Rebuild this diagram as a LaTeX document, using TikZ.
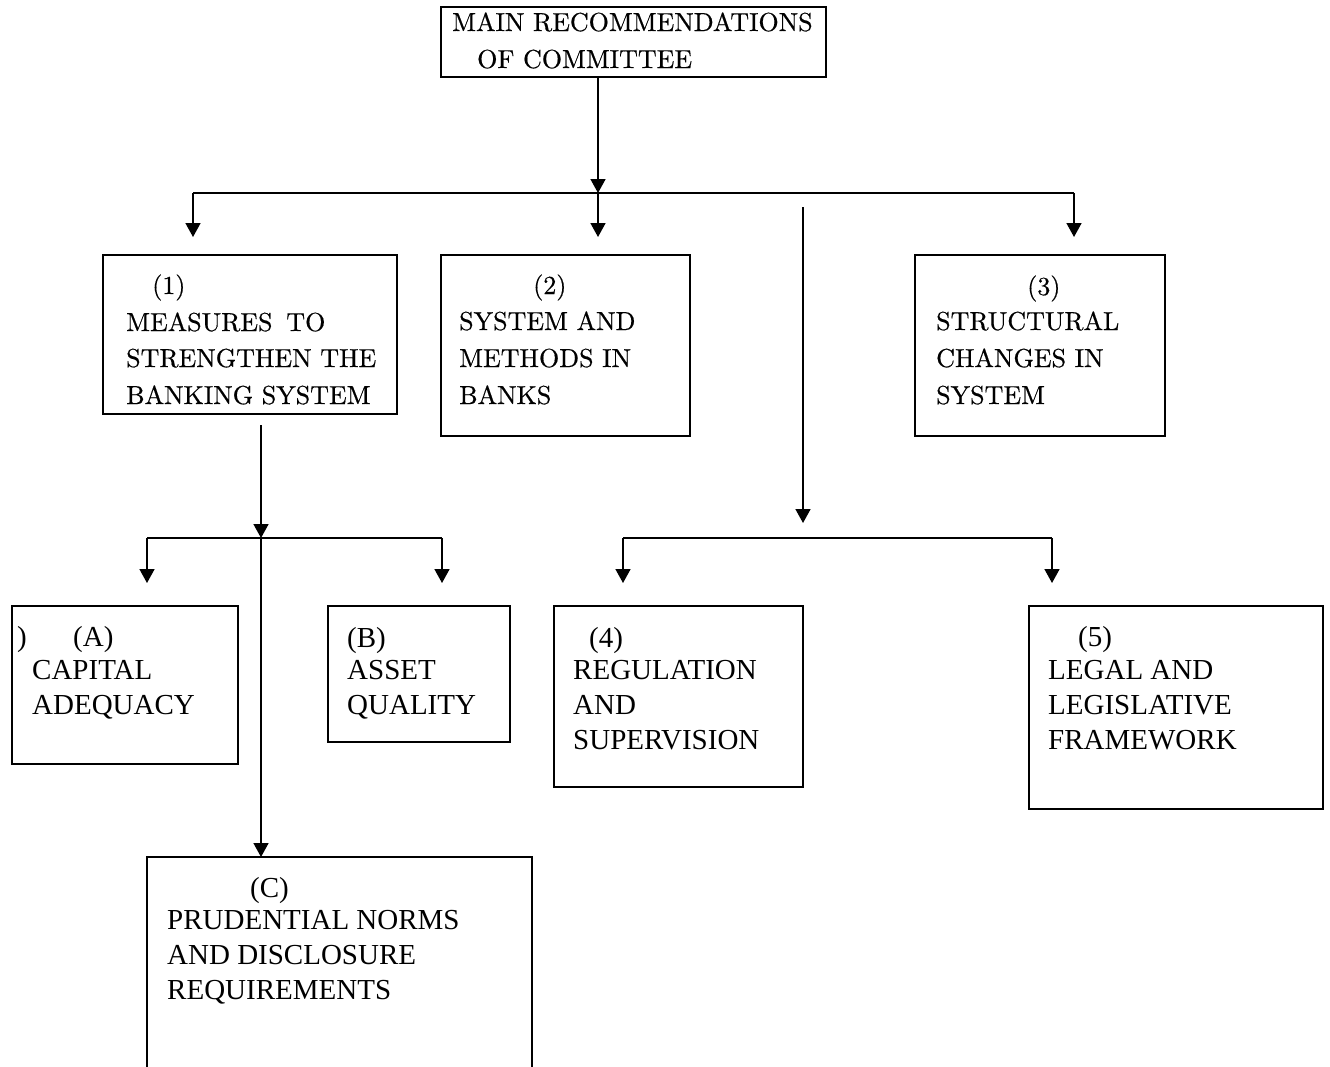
\documentclass[tikz,border=0pt]{standalone}
\usepackage{fontspec}
\newfontfamily\tnrfont{Liberation Serif}
\newfontfamily\cmbfont[Extension=.otf,FakeBold=0.5]{lmroman10-regular}
\usetikzlibrary{arrows.meta}
\begin{document}
\begin{tikzpicture}[x=1pt,y=-1pt,
  box/.style={draw,line width=1.5pt,rectangle,anchor=north west,inner sep=0pt,outer sep=0pt},
  ctxt/.style={anchor=base west,inner sep=0pt,font=\cmbfont\fontsize{26}{30}\selectfont},
  ttxt/.style={anchor=base west,inner sep=0pt,font=\tnrfont\fontsize{29}{34}\selectfont},
  ln/.style={line width=1.6pt},
  arr/.style={line width=1.6pt,-{Triangle[length=14pt,width=15pt]}}]
\useasboundingbox[fill=white] (0,0) rectangle (1330,1066);
% boxes
\node[box,minimum width=385pt,minimum height=70pt] (top) at (441,7) {};
\node[box,minimum width=294pt,minimum height=159pt] (b1) at (103,255) {};
\node[box,minimum width=249pt,minimum height=181pt] (b2) at (441,255) {};
\node[box,minimum width=250pt,minimum height=181pt] (b3) at (915,255) {};
\node[box,minimum width=226pt,minimum height=158pt] (bA) at (12,606) {};
\node[box,minimum width=182pt,minimum height=136pt] (bB) at (328,606) {};
\node[box,minimum width=249pt,minimum height=181pt] (b4) at (554,606) {};
\node[box,minimum width=294pt,minimum height=203pt] (b5) at (1029,606) {};
\node[box,minimum width=385pt,minimum height=240pt] (bC) at (147,857) {};
% texts
\node[ctxt] (t0a) at (452,31) {MAIN RECOMMENDATIONS};
\node[ctxt] (t0b) at (477,68) {OF COMMITTEE};
\node[ctxt] (t1a) at (152,294) {(1)};
\node[ctxt] (t1b) at (126,331) {MEASURES\hspace{0.2em} TO};
\node[ctxt] (t1c) at (126,367) {STRENGTHEN THE};
\node[ctxt] (t1d) at (126,404) {BANKING SYSTEM};
\node[ctxt] (t2a) at (533,294) {(2)};
\node[ctxt] (t2b) at (459,330) {SYSTEM AND};
\node[ctxt] (t2c) at (459,367) {METHODS IN};
\node[ctxt] (t2d) at (459,404) {BANKS};
\node[ctxt] (t3a) at (1027,295) {(3)};
\node[ctxt] (t3b) at (936,330) {STRUCTURAL};
\node[ctxt] (t3c) at (936,367) {CHANGES IN};
\node[ctxt] (t3d) at (936,404) {SYSTEM};
\node[ttxt] (tAz) at (17,646) {)};
\node[ttxt] (tAa) at (73,646) {(A)};
\node[ttxt] (tAb) at (32,679) {CAPITAL};
\node[ttxt] (tAc) at (32,714) {ADEQUACY};
\node[ttxt] (tBa) at (347,647) {(B)};
\node[ttxt] (tBb) at (347,679) {ASSET};
\node[ttxt] (tBc) at (347,714) {QUALITY};
\node[ttxt] (t4a) at (589,647) {(4)};
\node[ttxt] (t4b) at (573,679) {REGULATION};
\node[ttxt] (t4c) at (573,714) {AND};
\node[ttxt] (t4d) at (573,749) {SUPERVISION};
\node[ttxt] (t5a) at (1078,646) {(5)};
\node[ttxt] (t5b) at (1048,679) {LEGAL AND};
\node[ttxt] (t5c) at (1048,714) {LEGISLATIVE};
\node[ttxt] (t5d) at (1048,749) {FRAMEWORK};
\node[ttxt] (tCa) at (250,897) {(C)};
\node[ttxt] (tCb) at (167,929) {PRUDENTIAL NORMS};
\node[ttxt] (tCc) at (167,964) {AND DISCLOSURE};
\node[ttxt] (tCd) at (167,999) {REQUIREMENTS};
% connector coordinates
\coordinate (j1) at (598,193);
\coordinate (h1l) at (193,193);
\coordinate (h1r) at (1074,193);
\coordinate (e1) at (193,237);
\coordinate (e2) at (598,237);
\coordinate (e3) at (1074,237);
\coordinate (m1) at (803,207);
\coordinate (m2) at (803,523);
\coordinate (h3l) at (623,538);
\coordinate (h3r) at (1052,538);
\coordinate (e6) at (623,583);
\coordinate (e7) at (1052,583);
\coordinate (s1) at (261,425);
\coordinate (j2) at (261,538);
\coordinate (h2l) at (147,538);
\coordinate (h2r) at (442,538);
\coordinate (e4) at (147,583);
\coordinate (e5) at (442,583);
% connectors
\draw[arr] (top.south -| j1) -- (j1);
\draw[ln] (h1l) -- (h1r);
\draw[arr] (h1l) -- (e1);
\draw[arr] (j1) -- (e2);
\draw[arr] (h1r) -- (e3);
\draw[arr] (m1) -- (m2);
\draw[ln] (h3l) -- (h3r);
\draw[arr] (h3l) -- (e6);
\draw[arr] (h3r) -- (e7);
\draw[arr] (s1) -- (j2);
\draw[ln] (h2l) -- (h2r);
\draw[arr] (h2l) -- (e4);
\draw[arr] (h2r) -- (e5);
\draw[arr] (j2) -- (bC.north -| j2);
\end{tikzpicture}
\end{document}
